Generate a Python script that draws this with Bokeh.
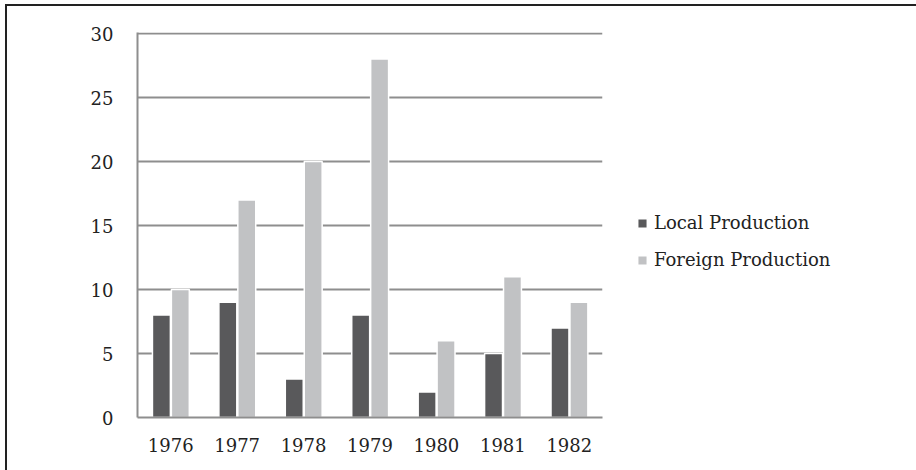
from bokeh.plotting import figure
from bokeh.models import ColumnDataSource, FactorRange, Range1d, FixedTicker, Legend, LegendItem
from bokeh.transform import dodge
from bokeh.embed import file_html
from bokeh.resources import INLINE

years = ["1976", "1977", "1978", "1979", "1980", "1981", "1982"]
local_production = [8, 9, 3, 8, 2, 5, 7]
foreign_production = [10, 17, 20, 28, 6, 11, 9]
y_ticks = [0, 5, 10, 15, 20, 25, 30]

FONT = "DejaVu Serif"
src = ColumnDataSource(dict(year=years, local=local_production, foreign=foreign_production))

p = figure(frame_width=465, frame_height=385, x_range=FactorRange(*years), y_range=Range1d(0, 30.08),
           output_backend="svg", toolbar_location=None,
           min_border_left=130, min_border_right=60, min_border_top=26, min_border_bottom=53)
p.styles = {"margin-left": "5px", "margin-top": "4px",
            "border-top": "2px solid #222222", "border-left": "2px solid #222222"}
p.outline_line_color = None
p.background_fill_color = "white"
p.border_fill_color = "white"

r1 = p.vbar(x=dodge("year", -0.14, range=p.x_range), top="local", width=0.27, source=src,
            fill_color="#59595b", line_color="white", line_width=1.5)
r2 = p.vbar(x=dodge("year", 0.145, range=p.x_range), top="foreign", width=0.27, source=src,
            fill_color="#c1c2c4", line_color="white", line_width=1.5)

p.xgrid.grid_line_color = None
p.ygrid.grid_line_color = "#8e8e8e"
p.ygrid.grid_line_width = 2
p.ygrid.level = "underlay"
p.yaxis.ticker = FixedTicker(ticks=y_ticks)

for ax in (p.xaxis[0], p.yaxis[0]):
    ax.axis_line_color = "#8e8e8e"
    ax.axis_line_width = 2
    ax.major_tick_line_color = None
    ax.minor_tick_line_color = None
    ax.major_label_text_font = FONT
    ax.major_label_text_font_size = "18px"
    ax.major_label_text_color = "#222222"
p.yaxis.major_label_standoff = 18
p.xaxis.major_label_standoff = 14

legend = Legend(items=[LegendItem(label="Local Production", renderers=[r1]),
                       LegendItem(label="Foreign Production", renderers=[r2])],
                location=(34, 147), padding=0, margin=0, spacing=16,
                glyph_width=12, glyph_height=12, label_standoff=6,
                label_text_font=FONT, label_text_font_size="18px", label_text_color="#222222",
                border_line_color=None, background_fill_alpha=0)
p.add_layout(legend, "right")

open("out.html", "w").write(file_html(p, INLINE))
